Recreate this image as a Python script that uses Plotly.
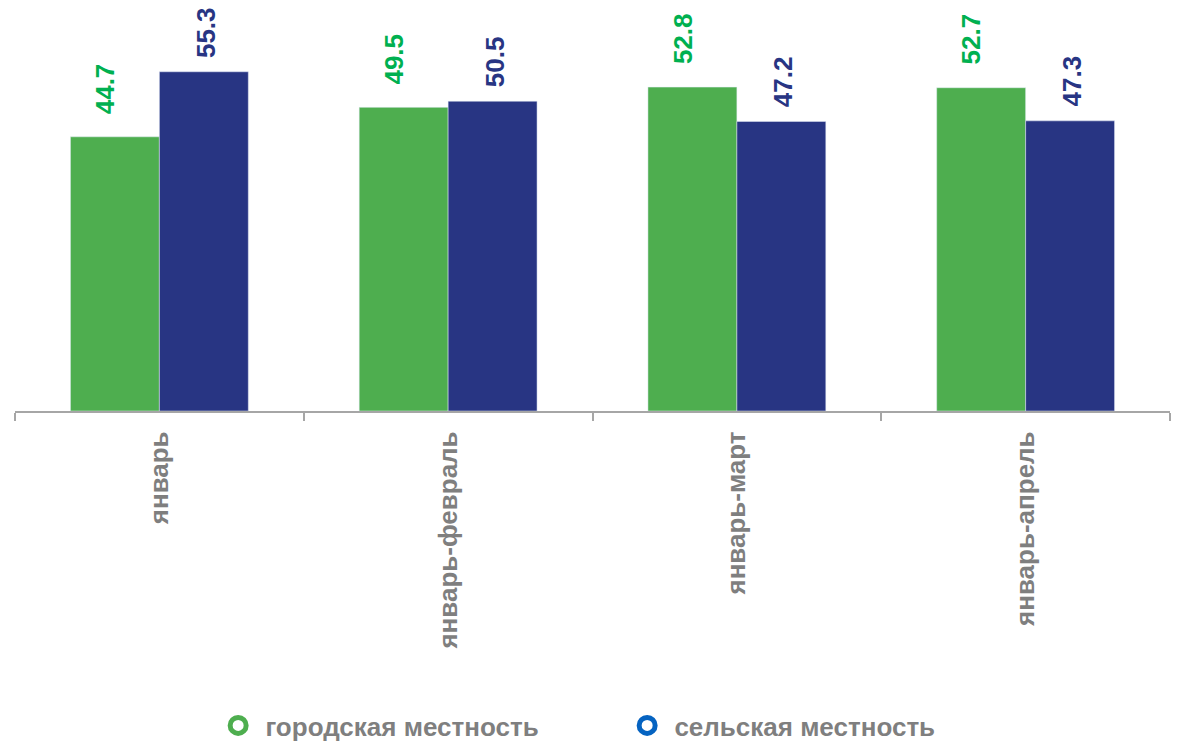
import plotly.graph_objects as go

categories = ["январь", "январь-февраль", "январь-март", "январь-апрель"]
urban = [44.7, 49.5, 52.8, 52.7]
rural = [55.3, 50.5, 47.2, 47.3]
series_names = ["городская местность", "сельская местность"]

BAR_GREEN = "#4EAE4F"
BAR_BLUE = "#283583"
LBL_GREEN = "#00B050"
LBL_BLUE = "#283583"
LEG_GREEN = "#4EAE4F"
LEG_BLUE = "#0563C1"
GRAY = "#7F7F7F"
FONT = "Liberation Sans, Arial, sans-serif"

fig = go.Figure()
fig.add_trace(go.Bar(x=categories, y=urban, marker_color=BAR_GREEN, showlegend=False,
                     name=series_names[0]))
fig.add_trace(go.Bar(x=categories, y=rural, marker_color=BAR_BLUE, showlegend=False,
                     name=series_names[1]))

# legend entries (ring markers)
for nm, col in zip(series_names, [LEG_GREEN, LEG_BLUE]):
    fig.add_trace(go.Scatter(x=[None], y=[None], mode="markers",
                             name=f"&nbsp;<b>{nm}</b>",
                             marker=dict(symbol="circle-open", size=16, color=col,
                                         line=dict(width=6, color=col))))

half = 44.4
for cat, v in zip(categories, urban):
    fig.add_annotation(x=cat, y=v, xref="x", yref="y", text=f"<b>{v:.1f}</b>",
                       textangle=-90, showarrow=False, xanchor="center", yanchor="bottom",
                       xshift=-half - 10, yshift=21,
                       font=dict(family=FONT, size=26, color=LBL_GREEN))
for cat, v in zip(categories, rural):
    fig.add_annotation(x=cat, y=v, xref="x", yref="y", text=f"<b>{v:.1f}</b>",
                       textangle=-90, showarrow=False, xanchor="center", yanchor="bottom",
                       xshift=half + 2, yshift=12,
                       font=dict(family=FONT, size=26, color=LBL_BLUE))

fig.update_layout(
    width=1178, height=749,
    margin=dict(l=15, r=8, t=0, b=337),
    barmode="group", bargap=0.384, bargroupgap=0,
    plot_bgcolor="white", paper_bgcolor="white",
    font=dict(family=FONT),
    legend=dict(orientation="h", x=0.530, xanchor="center", y=-0.765, yanchor="middle",
                font=dict(family=FONT, size=26, color=GRAY),
                entrywidth=364, entrywidthmode="pixels"),
)
fig.update_xaxes(
    type="category", tickangle=-90, showline=True, linecolor="#A6A6A6", linewidth=2,
    ticks="outside", tickson="boundaries", ticklen=8, tickcolor="#A6A6A6", tickwidth=2,
    tickfont=dict(family=FONT, size=26, color=GRAY),
    tickvals=categories, ticktext=[f"<b>{c}</b>" for c in categories],
    ticklabelstandoff=8, showgrid=False,
)
fig.update_yaxes(range=[0, 67], visible=False, showgrid=False)

fig.write_html("out.html", config={"displayModeBar": False},
               post_script="document.body.style.margin='0';")
